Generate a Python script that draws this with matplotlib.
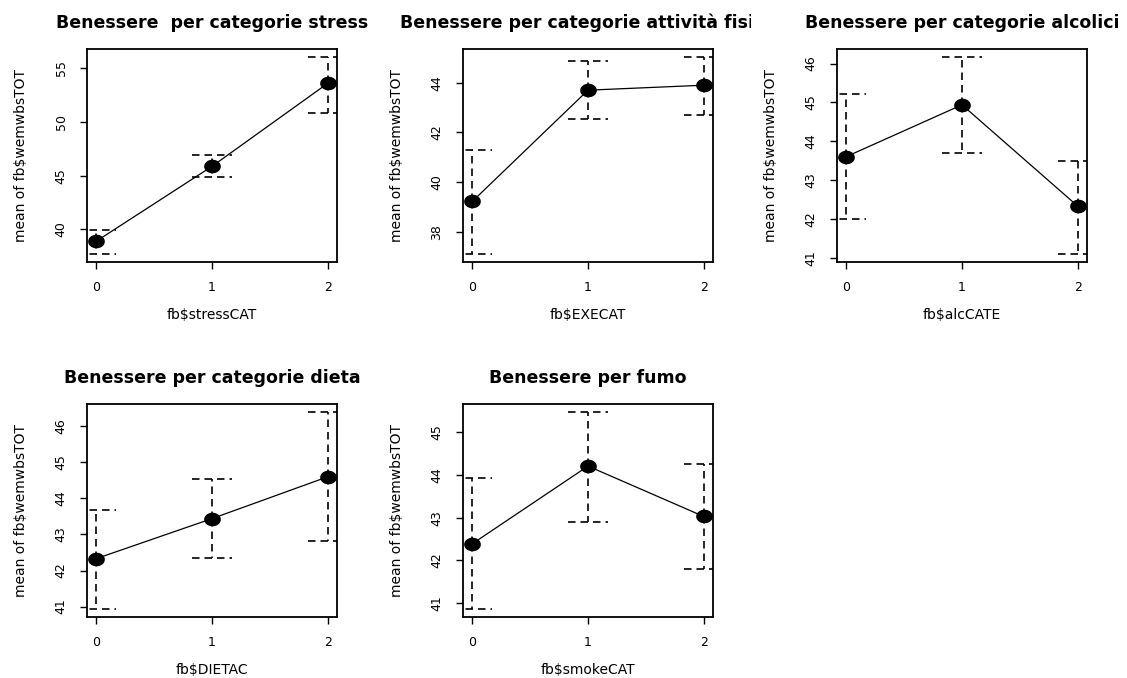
import matplotlib
matplotlib.use("Agg")
import matplotlib.pyplot as plt
import numpy as np
from matplotlib.path import Path
from matplotlib.transforms import Bbox, TransformedBbox


CATS = [0, 1, 2]
CAT_LABELS = ["0", "1", "2"]

stress_mean = [38.90, 45.87, 53.60]
stress_lo = [37.70, 44.85, 50.88]
stress_hi = [39.90, 46.90, 56.06]

exe_mean = [39.22, 43.70, 43.90]
exe_lo = [37.10, 42.55, 42.70]
exe_hi = [41.28, 44.88, 45.04]

alc_mean = [43.61, 44.94, 42.34]
alc_lo = [42.01, 43.70, 41.11]
alc_hi = [45.21, 46.17, 43.51]

diet_mean = [42.33, 43.44, 44.60]
diet_lo = [40.93, 42.36, 42.83]
diet_hi = [43.69, 44.53, 46.40]

smoke_mean = [42.39, 44.21, 43.03]
smoke_lo = [40.86, 42.90, 41.80]
smoke_hi = [43.92, 45.48, 44.27]

YLABEL = "mean of fb$wemwbsTOT"

PANELS = [
    ("Benessere  per categorie stress", "fb$stressCAT", stress_mean, stress_lo, stress_hi, [40, 45, 50, 55]),
    ("Benessere per categorie attività fisica", "fb$EXECAT", exe_mean, exe_lo, exe_hi, [38, 40, 42, 44]),
    ("Benessere per categorie alcolici", "fb$alcCATE", alc_mean, alc_lo, alc_hi, [41, 42, 43, 44, 45, 46]),
    ("Benessere per categorie dieta", "fb$DIETAC", diet_mean, diet_lo, diet_hi, [41, 42, 43, 44, 45, 46]),
    ("Benessere per fumo", "fb$smokeCAT", smoke_mean, smoke_lo, smoke_hi, [41, 42, 43, 44, 45]),
]

W, H = 1127, 678
# axes boxes in pixels: left, top of axes
BOXES = [(87, 49), (463, 49), (837, 49), (87, 404), (463, 404)]
AX_W, AX_H = 250, 213

# horizontally stretched dot, like the source image
t = np.linspace(0, 2 * np.pi, 40)
DOT = Path(np.column_stack([1.25 * np.cos(t), np.sin(t)]))

DASH = (0, (4.5, 3))


def r_range(lo, hi):
    pad = (hi - lo) * 0.04
    return lo - pad, hi + pad


def draw_panel(fig, idx, title, xlab, mean, lo, hi, yticks):
    left, top = BOXES[idx]
    ax = fig.add_axes([left / W, (H - top - AX_H) / H, AX_W / W, AX_H / H])

    for x, m, l, h in zip(CATS, mean, lo, hi):
        ax.plot([x, x], [m, h], color="black", lw=1.2, linestyle=DASH)
        ax.plot([x, x], [m, l], color="black", lw=1.2, linestyle=DASH)
        ax.plot([x - 0.17, x + 0.17], [h, h], color="black", lw=1.2, linestyle=DASH)
        ax.plot([x - 0.17, x + 0.17], [l, l], color="black", lw=1.2, linestyle=DASH)

    ax.plot(CATS, mean, color="black", lw=0.9)
    ax.plot(CATS, mean, linestyle="none", marker=DOT, markersize=11, color="black")

    ax.set_xlim(*r_range(min(CATS), max(CATS)))
    ax.set_ylim(*r_range(min(lo), max(hi)))
    ax.set_xticks(CATS)
    ax.set_xticklabels(CAT_LABELS)
    ax.set_yticks(yticks)
    ax.set_yticklabels([str(v) for v in yticks], rotation=90, va="center")
    ax.tick_params(direction="out", length=5, width=1, labelsize=9, pad=9)

    for sp in ax.spines.values():
        sp.set_linewidth(1.3)

    ax.set_xlabel(xlab, fontsize=10, labelpad=10)
    ax.set_ylabel(YLABEL, fontsize=10, labelpad=19)
    ttl = ax.set_title(title, fontsize=12.5, fontweight="bold", pad=15)

    # R clips the title to its own figure region
    col = idx % 3
    row = idx // 3
    region = Bbox([[col / 3, 1 - (row + 1) / 2], [(col + 1) / 3, 1 - row / 2]])
    ttl.set_clip_box(TransformedBbox(region, fig.transFigure))
    ttl.set_clip_on(True)
    return ax


def main():
    plt.rcParams["font.family"] = ["DejaVu Sans"]
    fig = plt.figure(figsize=(W / 100, H / 100), dpi=100)
    fig.patch.set_facecolor("white")
    for i, (title, xlab, mean, lo, hi, yticks) in enumerate(PANELS):
        draw_panel(fig, i, title, xlab, mean, lo, hi, yticks)
    fig.savefig("out.png", dpi=100)
    plt.close(fig)


if __name__ == "__main__":
    main()
